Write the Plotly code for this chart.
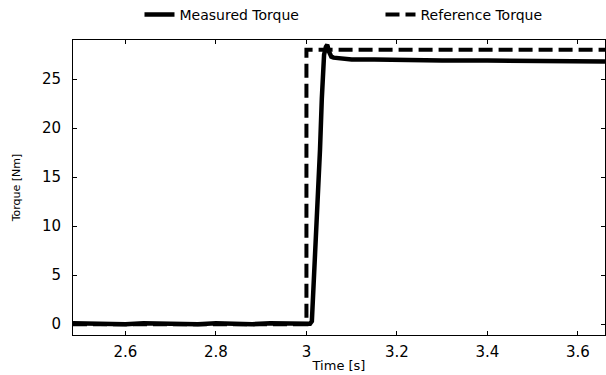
import plotly.graph_objects as go

# Measured torque
t_meas = [2.484, 2.52, 2.56, 2.6, 2.64, 2.68, 2.72, 2.76, 2.8, 2.84, 2.88, 2.92, 2.96, 3.0,
          3.008, 3.012, 3.016, 3.02, 3.0235, 3.03, 3.034, 3.039, 3.043, 3.046, 3.05, 3.055,
          3.06, 3.08, 3.1, 3.15, 3.2, 3.3, 3.4, 3.5, 3.6, 3.66]
v_meas = [0.1, 0.05, 0.1, 0.0, 0.1, 0.05, 0.1, 0.0, 0.1, 0.05, 0.0, 0.1, 0.05, 0.0,
          0.05, 0.3, 4.0, 8.0, 11.6, 17.8, 23.0, 27.5, 28.3, 28.5, 27.8, 27.3,
          27.2, 27.1, 27.0, 27.0, 26.95, 26.9, 26.9, 26.85, 26.8, 26.8]

# Reference torque
t_ref = [2.484, 3.0, 3.0, 3.66]
v_ref = [0.0, 0.0, 28.0, 28.0]

x_ticks = [2.6, 2.8, 3.0, 3.2, 3.4, 3.6]
x_tick_labels = ["2.6", "2.8", "3", "3.2", "3.4", "3.6"]
y_ticks = [0, 5, 10, 15, 20, 25]

FONT = "DejaVu Sans"

fig = go.Figure()
fig.add_trace(go.Scatter(x=t_meas, y=v_meas, mode="lines", name="Measured Torque",
                         line=dict(color="black", width=4.5)))
fig.add_trace(go.Scatter(x=t_ref, y=v_ref, mode="lines", name="Reference Torque",
                         line=dict(color="black", width=4, dash="14px,6px")))

axis_common = dict(showline=True, linecolor="black", linewidth=1, mirror="ticks",
                   ticks="inside", ticklen=4, tickcolor="black", tickwidth=1,
                   showgrid=False, zeroline=False,
                   tickfont=dict(family=FONT, size=15, color="black"))

fig.update_layout(
    width=606, height=375,
    margin=dict(l=73, r=1, t=40, b=40, autoexpand=False),
    plot_bgcolor="white", paper_bgcolor="white",
    font=dict(family=FONT, color="black"),
    xaxis=dict(range=[2.484, 3.66], tickvals=x_ticks, ticktext=x_tick_labels,
               title=dict(text="Time [s]", font=dict(family=FONT, size=13), standoff=0),
               ticklabelstandoff=3, **axis_common),
    yaxis=dict(range=[-1.1, 29.0], tickvals=y_ticks,
               title=dict(text="Torque [Nm]", font=dict(family=FONT, size=11), standoff=19),
               ticklabelstandoff=8, **axis_common),
    legend=dict(orientation="h", x=0.578, xanchor="center", y=1.085, yanchor="middle",
                font=dict(family=FONT, size=14), bgcolor="rgba(0,0,0,0)",
                entrywidth=196, entrywidthmode="pixels"),
    showlegend=True,
)

fig.write_html("out.html")
